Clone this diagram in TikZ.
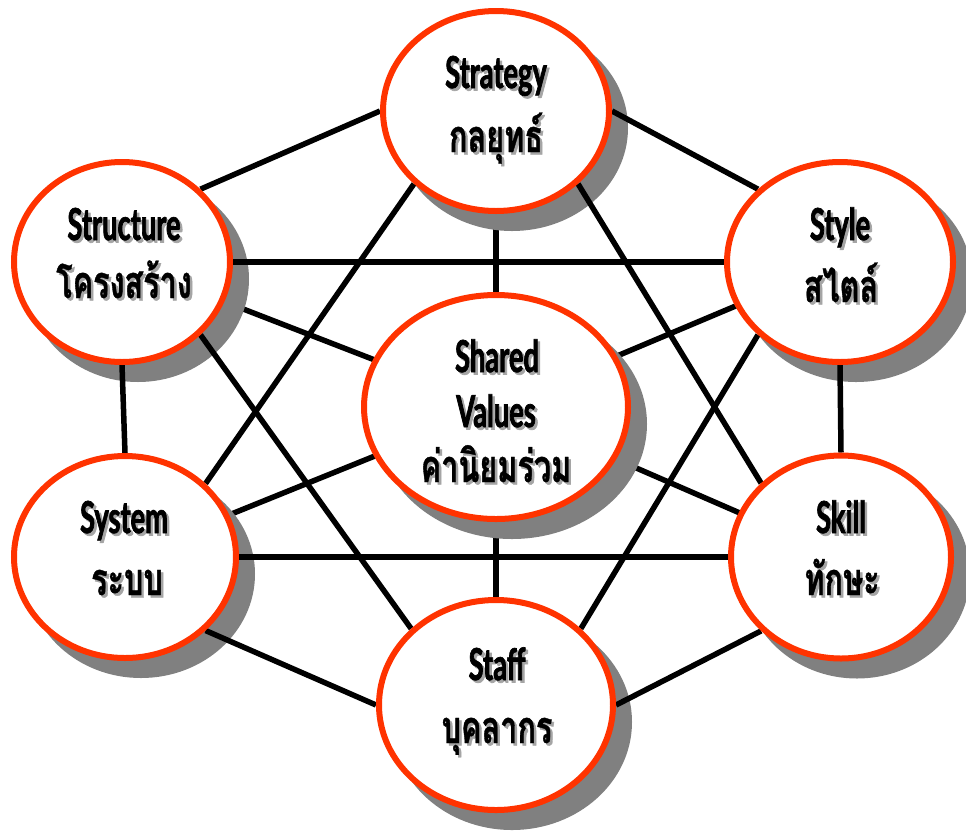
\documentclass[tikz,border=0pt]{standalone}
\usepackage{fontspec}
\setmainfont{Lato}
\newfontfamily\enfont[FakeStretch=0.62,FakeBold=1.6]{Lato}
\newfontfamily\thfont[Script=Thai,FakeStretch=0.68,FakeBold=0.8]{Loma}
\usetikzlibrary{shapes.geometric}

\pgfdeclarelayer{paper}
\pgfdeclarelayer{centrelines}
\pgfdeclarelayer{shadows}
\pgfdeclarelayer{links}
\pgfsetlayers{paper,centrelines,shadows,links,main}

\definecolor{ringred}{RGB}{255,51,0}
\definecolor{shadowgray}{RGB}{128,128,128}
\definecolor{textshadow}{RGB}{165,165,165}

\newcommand\shtx[1]{\leavevmode\rlap{\kern2.5pt\raisebox{-2.5pt}{\textcolor{textshadow}{#1}}}#1}

\tikzset{
  ring/.style={ellipse, draw=ringred, line width=6pt, fill=white, inner sep=0pt},
  ringshadow/.style={ellipse, fill=shadowgray, draw=none, inner sep=0pt},
  link/.style={draw=black, line width=5.5pt},
  entext/.style={font=\enfont\bfseries\fontsize{44}{44}\selectfont, anchor=base, inner sep=0pt},
  thtext/.style={font=\thfont\bfseries\fontsize{45}{45}\selectfont, anchor=base, inner sep=0pt},
}

% name, x, y, path width, path height
\newcommand\ellnode[5]{%
  \begin{pgfonlayer}{shadows}
    \node[ringshadow, minimum width=#4pt+6pt, minimum height=#5pt+6pt] (#1-shadow) at (#2+16,#3+17) {};
  \end{pgfonlayer}
  \node[ring, minimum width=#4pt, minimum height=#5pt] (#1) at (#2,#3) {};
}

\begin{document}
\begin{tikzpicture}[x=1pt,y=-1pt]
\useasboundingbox (0,0) rectangle (966,831);
\begin{pgfonlayer}{paper}
  \fill[white] (0,0) rectangle (966,831);
\end{pgfonlayer}

\ellnode{strat}{496}{111}{226}{200}
\ellnode{struct}{122}{262}{216}{200}
\ellnode{style}{840}{262}{226}{200}
\ellnode{shared}{496}{407}{264}{224}
\ellnode{system}{125}{557}{222}{202}
\ellnode{skill}{841}{557}{220}{203}
\ellnode{staff}{496}{705}{234}{210}

% labels
\node[entext] (strat-en) at (496,88) {\shtx{Strategy}};
\node[thtext] (strat-th) at (496,152) {\shtx{กลยุทธ์}};
\node[entext] (struct-en) at (124,240) {\shtx{Structure}};
\node[thtext] (struct-th) at (124,298) {\shtx{โครงสร้าง}};
\node[entext] (style-en) at (840,240) {\shtx{Style}};
\node[thtext] (style-th) at (841,302) {\shtx{สไตล์}};
\node[entext] (shared-en1) at (497,372) {\shtx{Shared}};
\node[entext] (shared-en2) at (496,427) {\shtx{Values}};
\node[thtext] (shared-th) at (496,482) {\shtx{ค่านิยมร่วม}};
\node[entext] (system-en) at (124,533) {\shtx{System}};
\node[thtext] (system-th) at (127,595) {\shtx{ระบบ}};
\node[entext] (skill-en) at (841,533) {\shtx{Skill}};
\node[thtext] (skill-th) at (842,595) {\shtx{ทักษะ}};
\node[entext] (staff-en) at (497,680) {\shtx{Staff}};
\node[thtext] (staff-th) at (497,743) {\shtx{บุคลากร}};

% lines to the centre
\begin{pgfonlayer}{centrelines}
  \foreach \n in {strat,struct,style,system,skill,staff}
    \draw[link] (shared.center) -- (\n.center);
\end{pgfonlayer}

% other links
\begin{pgfonlayer}{links}
  \draw[link] (strat.west) -- (struct.north east);
  \draw[link] (strat.east) -- (style.north west);
  \draw[link] (strat.south west) -- (system.north east);
  \draw[link] (strat.south east) -- (skill.north west);
  \draw[link] (struct.east) -- (style.west);
  \draw[link] (struct.south) -- (system.north);
  \draw[link] (struct.south east) -- (staff.north west);
  \draw[link] (style.south) -- (skill.north);
  \draw[link] (style.south west) -- (staff.north east);
  \draw[link] (system.east) -- (skill.west);
  \draw[link] (system.south east) -- (staff.west);
  \draw[link] (skill.south west) -- (staff.east);
\end{pgfonlayer}
\end{tikzpicture}
\end{document}
